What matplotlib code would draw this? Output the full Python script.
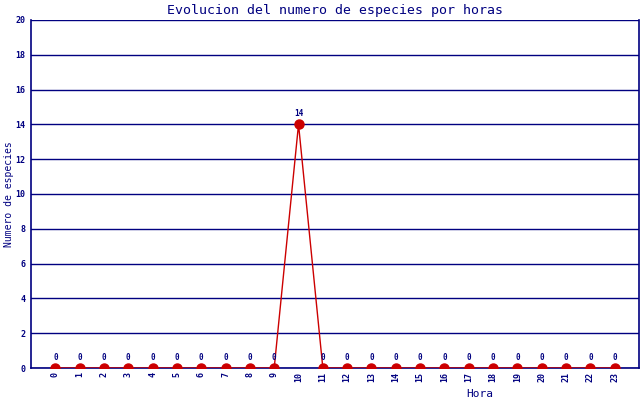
import matplotlib
matplotlib.use('Agg')
import matplotlib.pyplot as plt

# Datos: numero de especies por hora
horas = list(range(24))
especies = [0, 0, 0, 0, 0, 0, 0, 0, 0, 0, 14, 0, 0, 0, 0, 0, 0, 0, 0, 0, 0, 0, 0, 0]

azul = '#000080'
rojo = '#cc0000'
plt.rcParams['font.family'] = 'DejaVu Sans Mono'

fig = plt.figure(figsize=(6.4, 4), dpi=100)
ax = fig.add_axes([31/640, 32/400, 608/640, 348/400])

ax.plot(horas, especies, color=rojo, linewidth=1, marker='o', markersize=6.5, zorder=3)
for h, v in zip(horas, especies):
    ax.text(h, v + 0.35, str(v), ha='center', va='bottom', fontsize=5.5, color=azul, fontweight='bold')

ax.set_xlim(-1, 24)
ax.set_ylim(0, 20)
ax.set_yticks(range(0, 21, 2))
ax.set_xticks(horas)
ax.set_xticklabels([str(h) for h in horas], rotation=90, fontsize=6, color=azul, fontweight='bold')
ax.tick_params(axis='y', labelsize=6, labelcolor=azul, length=0, pad=4)
ax.tick_params(axis='x', length=0, pad=3)
for lbl in ax.get_yticklabels():
    lbl.set_fontweight('bold')

ax.grid(True, axis='y', color=azul, linewidth=1)
ax.set_axisbelow(True)
for s in ['left', 'bottom', 'right']:
    ax.spines[s].set_color(azul)
    ax.spines[s].set_linewidth(1.2)
ax.spines['top'].set_visible(False)

ax.set_title('Evolucion del numero de especies por horas', fontsize=9.5, color=azul, pad=4)
ax.set_ylabel('Numero de especies', fontsize=7, color=azul, va='center')
ax.yaxis.set_label_coords(-0.036, 0.5)
ax.set_xlabel('Hora', fontsize=8, color=azul)
ax.xaxis.set_label_coords(0.738, -0.06)

fig.savefig('out.png', dpi=100)
